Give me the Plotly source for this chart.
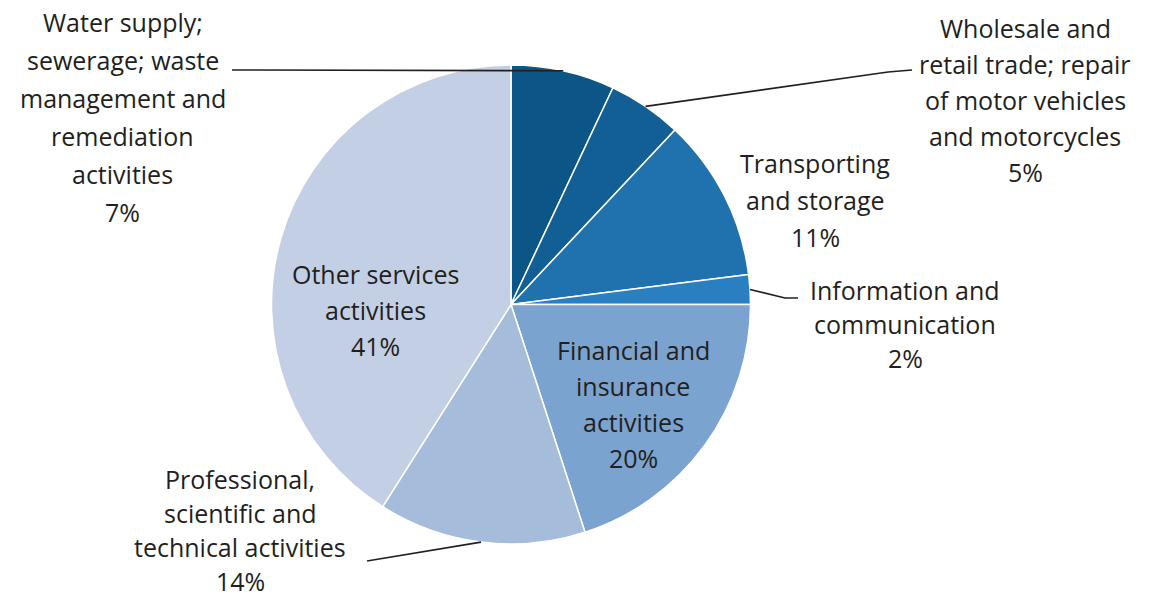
import math
import plotly.graph_objects as go

W, H = 1149, 599

# Sector shares (%), clockwise from 12 o'clock
sectors = [
    "Water supply; sewerage; waste management and remediation activities",
    "Wholesale and retail trade; repair of motor vehicles and motorcycles",
    "Transporting and storage",
    "Information and communication",
    "Financial and insurance activities",
    "Professional, scientific and technical activities",
    "Other services activities",
]
shares = [7, 5, 11, 2, 20, 14, 41]

# Label text lines (percent line is appended from shares)
label_lines = [
    ["Water supply;", "sewerage; waste", "management and", "remediation", "activities"],
    ["Wholesale and", "retail trade; repair", "of motor vehicles", "and motorcycles"],
    ["Transporting", "and storage"],
    ["Information and", "communication"],
    ["Financial and", "insurance", "activities"],
    ["Professional,", "scientific and", "technical activities"],
    ["Other services", "activities"],
]

colors = ["#0b5687", "#125f96", "#1f72ad", "#2a7fc0", "#7ba3cf", "#a6bcdb", "#c3cfe4"]

# Label placement in pixels: (centre x, first-line y, line gap)
label_pos = [
    (123, 22, 38),
    (1025, 28, 36),
    (815, 163, 37),
    (905, 290, 34),
    (633, 350, 36),
    (240, 479, 34),
    (375, 274, 36),
]
# Leader-line tails in pixels (None = label drawn inside the slice)
leader_tails = [
    [(232, 70)],
    [(888, 72), (912, 70)],
    None,
    [(785, 298), (798, 298)],
    None,
    [(367, 561)],
    None,
]

CX, CY, R = 511, 304.5, 239.5
TEXT = "#231f20"
FONT = "Open Sans"
FONT_SIZE = 25


def px(x, y):
    return x / W, 1 - y / H


fig = go.Figure(
    go.Pie(
        labels=sectors,
        values=shares,
        sort=False,
        direction="clockwise",
        rotation=0,
        textinfo="none",
        hoverinfo="label+percent",
        marker=dict(colors=colors, line=dict(color="white", width=1.5)),
        domain=dict(x=[(CX - R) / W, (CX + R) / W], y=[1 - (CY + R) / H, 1 - (CY - R) / H]),
        showlegend=False,
    )
)

annotations = []
shapes = []
cum = 0.0
total = sum(shares)
for lines, v, (lx, ly, gap), tail in zip(label_lines, shares, label_pos, leader_tails):
    all_lines = lines + [f"{v}%"]
    for k, t in enumerate(all_lines):
        x, y = px(lx, ly + k * gap)
        annotations.append(dict(
            x=x, y=y, xref="paper", yref="paper", text=t, showarrow=False,
            xanchor="center", yanchor="middle",
            font=dict(family=FONT, size=FONT_SIZE, color=TEXT),
        ))
    if tail is not None:
        theta = 2 * math.pi * (cum + v / 2) / total
        ex, ey = CX + R * math.sin(theta), CY - R * math.cos(theta)
        pts = [(ex, ey)] + tail
        path = "M " + " L ".join(f"{px(a, b)[0]:.5f},{px(a, b)[1]:.5f}" for a, b in pts)
        shapes.append(dict(type="path", path=path, xref="paper", yref="paper",
                           line=dict(color=TEXT, width=1.6)))
    cum += v

fig.update_layout(
    width=W, height=H,
    margin=dict(l=0, r=0, t=0, b=0),
    paper_bgcolor="white",
    plot_bgcolor="white",
    annotations=annotations,
    shapes=shapes,
)

fig.write_html("out.html")
